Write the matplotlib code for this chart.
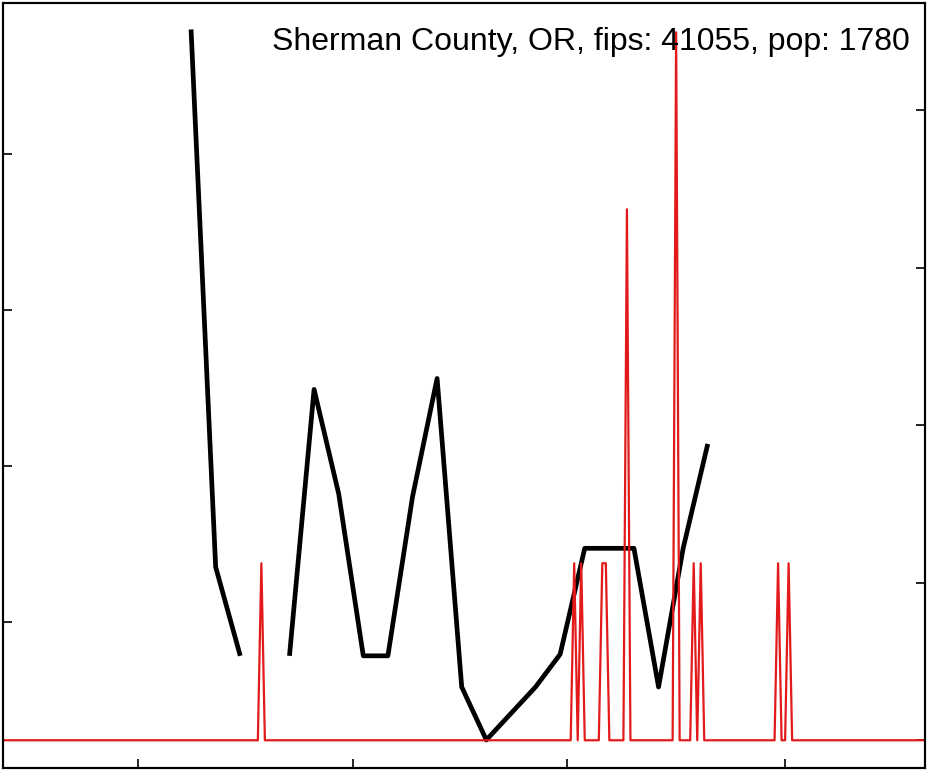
#!/usr/bin/env python3
# -*- coding: utf-8 -*-
"""Weekly indicator (black) and daily cases per 100k (red) for one county."""

from matplotlib import pyplot as plt
import numpy as np
import pandas as pd

plt.rcParams["font.family"] = ["Liberation Sans", "DejaVu Sans"]

county = "Sherman County, OR"
fips = 41055
population = 1780

# daily new cases: only the non-zero days are listed, every other day is 0
series_start = "2020-01-22"
series_end = "2020-10-11"
case_dates = [
    "2020-04-05", "2020-07-03", "2020-07-05", "2020-07-11", "2020-07-12",
    "2020-07-18", "2020-08-01", "2020-08-06", "2020-08-08", "2020-08-30",
    "2020-09-02",
]
case_counts = [1, 1, 1, 1, 1, 3, 4, 1, 1, 1, 1]

# weekly series (left axis), NaN = missing week
week_start = "2020-03-16"
week_values = [
    4.80, 1.35, 0.78, np.nan, 0.78, 2.49, 1.82, 0.78, 0.78, 1.80, 2.56,
    0.58, 0.24, 0.41, 0.58, 0.79, 1.47, 1.47, 1.47, 0.58, 1.47, 2.14,
]

x_ticks = ["2020-03-01", "2020-05-01", "2020-07-01", "2020-09-01"]
left_ticks = [1, 2, 3, 4]
right_ticks = [0, 50, 100, 150, 200]


def main() -> None:
    days = pd.date_range(series_start, series_end, freq="D")
    daily = pd.Series(0.0, index=days)
    daily.loc[pd.to_datetime(case_dates)] = case_counts
    per_100k = daily * 1e5 / population

    weeks = pd.date_range(week_start, periods=len(week_values), freq="7D")

    fig = plt.figure(figsize=(9.27, 7.72), dpi=100)
    ax = fig.add_axes([3 / 927, 4 / 772, 922 / 927, 765 / 772])
    ax.plot(weeks, week_values, color="black", linewidth=3.4, solid_capstyle="butt")
    ax.set_ylim(0.06, 4.97)

    ax2 = ax.twinx()
    ax2.plot(per_100k.index, per_100k.values, color="#e31a1c", linewidth=1.6)
    ax2.set_ylim(-8.8, 234.0)

    t0 = pd.Timestamp(series_start)
    ax.set_xlim(t0 + pd.Timedelta(days=0.5), t0 + pd.Timedelta(days=262.8))

    ax.set_xticks(pd.to_datetime(x_ticks))
    ax.set_yticks(left_ticks)
    ax2.set_yticks(right_ticks)
    for a in (ax, ax2):
        a.tick_params(direction="in", length=6.5, width=1.2, labelleft=False,
                      labelright=False, labelbottom=False, colors="black")
        for spine in a.spines.values():
            spine.set_linewidth(1.5)
    ax.tick_params(axis="y", left=True, right=False)
    ax2.tick_params(axis="y", left=False, right=True)
    ax2.tick_params(axis="x", bottom=False)

    ax2.text(0.984, 0.969, f"{county}, fips: {fips}, pop: {population}",
             transform=ax2.transAxes, ha="right", va="top", fontsize=23,
             color="black")

    fig.savefig("out.png")
    plt.close(fig)


if __name__ == "__main__":
    main()
